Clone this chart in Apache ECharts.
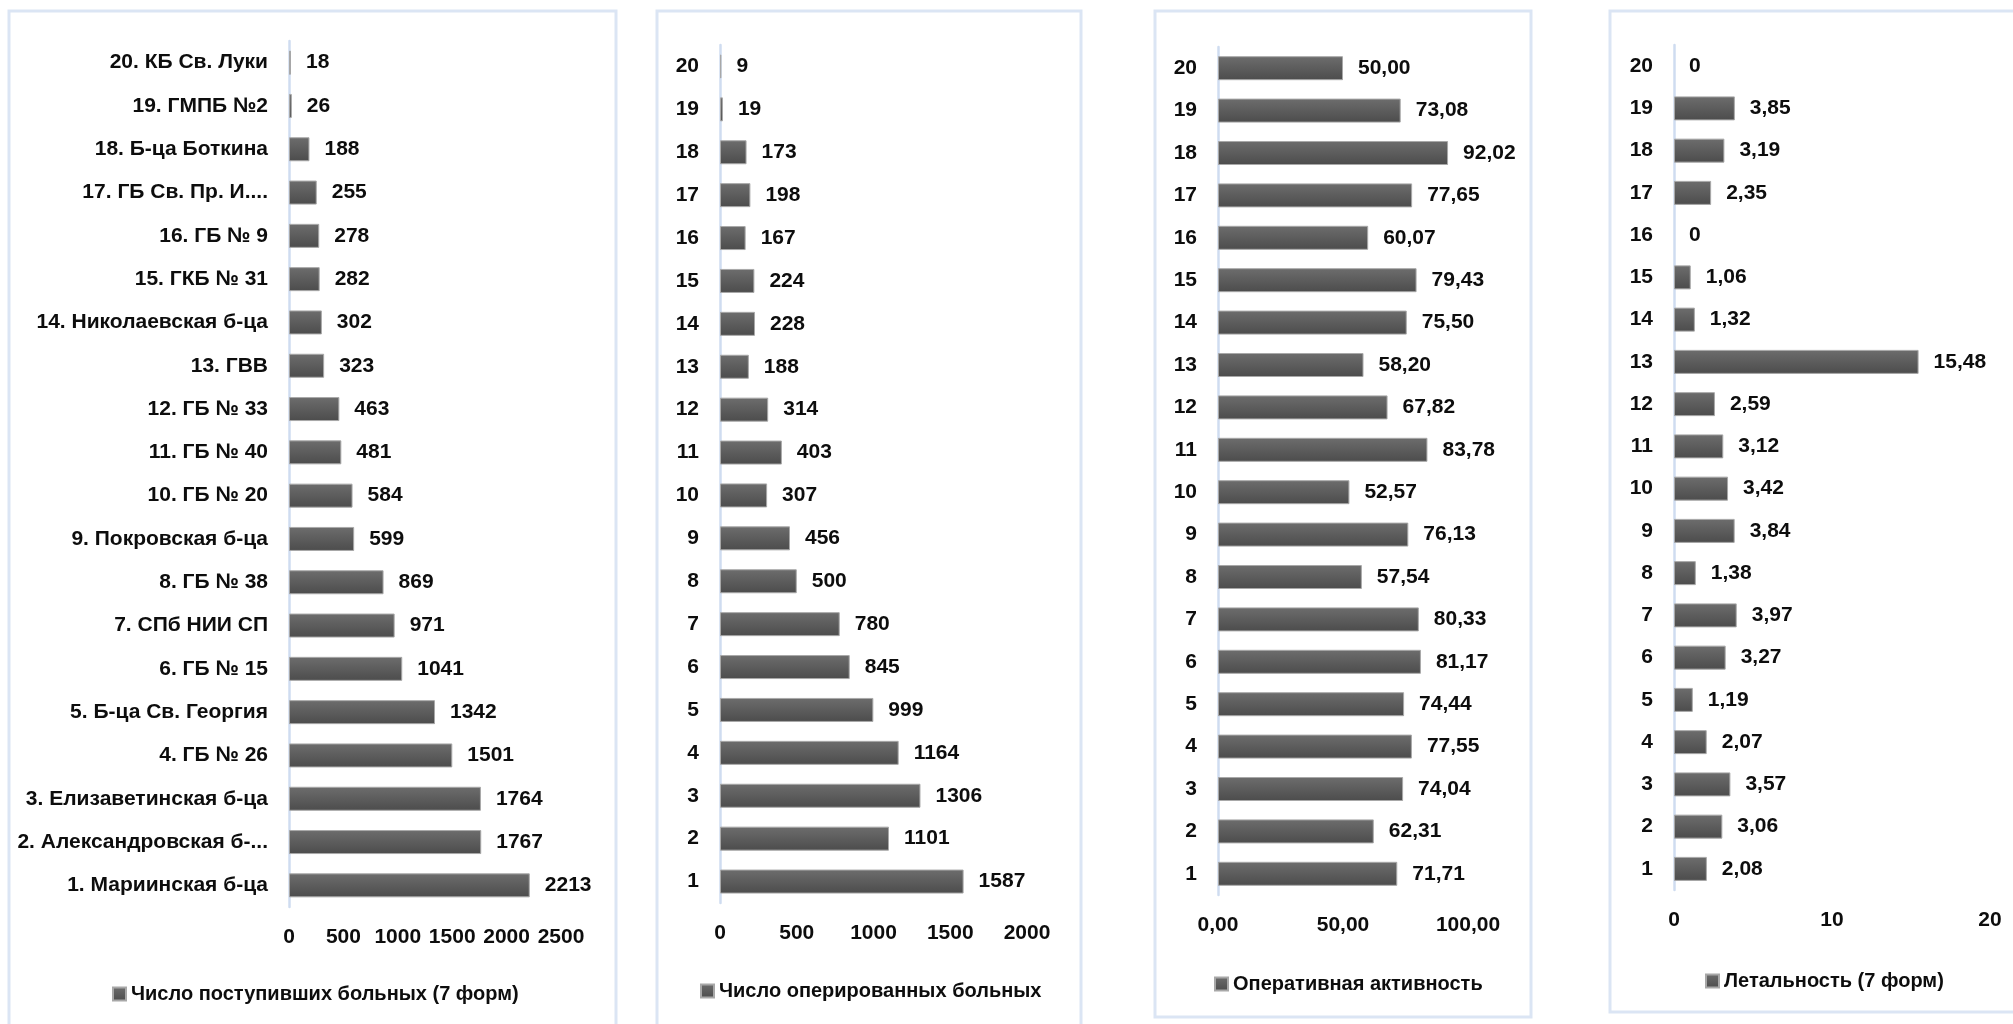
<!DOCTYPE html>
<html>
<head>
<meta charset="utf-8">
<script src="https://cdn.jsdelivr.net/npm/echarts@6/dist/echarts.min.js"></script>
<style>
html,body{margin:0;padding:0;background:#fff;}
#chart{width:2013px;height:1024px;}
</style>
</head>
<body>
<div id="chart"></div>
<script>
const hospitals = ['1. Мариинская б-ца','2. Александровская б-...','3. Елизаветинская б-ца','4. ГБ № 26','5. Б-ца Св. Георгия','6. ГБ № 15','7. СПб НИИ СП','8. ГБ № 38','9. Покровская б-ца','10. ГБ № 20','11. ГБ № 40','12. ГБ № 33','13. ГВВ','14. Николаевская б-ца','15. ГКБ № 31','16. ГБ № 9','17. ГБ Св. Пр. И....','18. Б-ца Боткина','19. ГМПБ №2','20. КБ Св. Луки'];
const numbers = ['1','2','3','4','5','6','7','8','9','10','11','12','13','14','15','16','17','18','19','20'];
const admitted = [2213,1767,1764,1501,1342,1041,971,869,599,584,481,463,323,302,282,278,255,188,26,18];
const operated = [1587,1101,1306,1164,999,845,780,500,456,307,403,314,188,228,224,167,198,173,19,9];
const activity = [71.71,62.31,74.04,77.55,74.44,81.17,80.33,57.54,76.13,52.57,83.78,67.82,58.20,75.50,79.43,60.07,77.65,92.02,73.08,50.00];
const lethality = [2.08,3.06,3.57,2.07,1.19,3.27,3.97,1.38,3.84,3.42,3.12,2.59,15.48,1.32,1.06,0,2.35,3.19,3.85,0];
const seriesNames = ['Число поступивших больных (7 форм)','Число оперированных больных','Оперативная активность','Летальность (7 форм)'];

const FONT = '"Liberation Sans", Arial, sans-serif';
const TXT = '#0d0d0d';
const AXIS_BLUE = '#cfdcf0';
const BORDER_BLUE = '#dbe5f4';

const comma2 = v => Number(v).toFixed(2).replace('.', ',');
const commaGen = v => (v === 0 ? '0' : Number(v).toFixed(2).replace('.', ','));

const barStyle = {
  color: new echarts.graphic.LinearGradient(0, 0, 0, 1, [
    {offset: 0, color: '#6d6d6d'},
    {offset: 1, color: '#4c4c4c'}
  ]),
  borderColor: '#a8a8a8',
  borderWidth: 1
};

// zero-valued bars draw nothing (no outline)
const toItems = arr => arr.map(v => (v === 0 ? {value: v, itemStyle: {borderWidth: 0}} : v));

const panels = [
  {grid:{left:289, top:41, width:272, height:866}, cats:hospitals, data:admitted, max:2500, interval:500, fmt:null, lfmt:null, legend:{left:107, top:979}},
  {grid:{left:720, top:45, width:307, height:858}, cats:numbers, data:operated, max:2000, interval:500, fmt:null, lfmt:null, legend:{left:695, top:976}},
  {grid:{left:1218, top:47, width:250, height:848}, cats:numbers, data:activity, max:100, interval:50, fmt:comma2, lfmt:comma2, legend:{left:1209, top:969}},
  {grid:{left:1674, top:45, width:316, height:845}, cats:numbers, data:lethality, max:20, interval:10, fmt:null, lfmt:commaGen, legend:{left:1700, top:966}}
];

const option = {
  backgroundColor: '#ffffff',
  animation: false,
  textStyle: {fontFamily: FONT},
  graphic: [
    {type:'rect', shape:{x:9, y:11, width:607, height:1040}, style:{fill:'none', stroke:BORDER_BLUE, lineWidth:3}},
    {type:'rect', shape:{x:657, y:11, width:424, height:1040}, style:{fill:'none', stroke:BORDER_BLUE, lineWidth:3}},
    {type:'rect', shape:{x:1155, y:11, width:376, height:1006}, style:{fill:'none', stroke:BORDER_BLUE, lineWidth:3}},
    {type:'rect', shape:{x:1610, y:11, width:440, height:1001}, style:{fill:'none', stroke:BORDER_BLUE, lineWidth:3}}
  ],
  grid: panels.map(p => p.grid),
  legend: panels.map((p, i) => ({
    left: p.legend.left, top: p.legend.top,
    data: [seriesNames[i]],
    itemWidth: 13, itemHeight: 13, itemGap: 10,
    icon: 'rect',
    selectedMode: false,
    textStyle: {fontFamily: FONT, fontSize: 20, fontWeight: 'bold', color: TXT}
  })),
  xAxis: panels.map((p, i) => ({
    type: 'value', gridIndex: i, min: 0, max: p.max, interval: p.interval,
    axisLine: {show: false}, axisTick: {show: false}, splitLine: {show: false},
    axisLabel: {margin: 20, fontFamily: FONT, fontSize: 21, fontWeight: 'bold', color: TXT,
      formatter: p.fmt ? p.fmt : (v => String(v))}
  })),
  yAxis: panels.map((p, i) => ({
    type: 'category', gridIndex: i, data: p.cats,
    axisLine: {show: true, lineStyle: {color: AXIS_BLUE, width: 2.5}},
    axisTick: {show: false}, splitLine: {show: false},
    axisLabel: {margin: 21, fontFamily: FONT, fontSize: 21, fontWeight: 'bold', color: TXT, interval: 0}
  })),
  series: panels.map((p, i) => ({
    type: 'bar', name: seriesNames[i], xAxisIndex: i, yAxisIndex: i,
    data: toItems(p.data), barWidth: 24,
    itemStyle: barStyle,
    label: {show: true, position: 'right', distance: 15, fontFamily: FONT, fontSize: 21, fontWeight: 'bold', color: TXT,
      formatter: p.lfmt ? (o => p.lfmt(o.value)) : (o => String(o.value))}
  }))
};

const chart = echarts.init(document.getElementById('chart'), null, {renderer: 'canvas'});
chart.setOption(option);
</script>
</body>
</html>
